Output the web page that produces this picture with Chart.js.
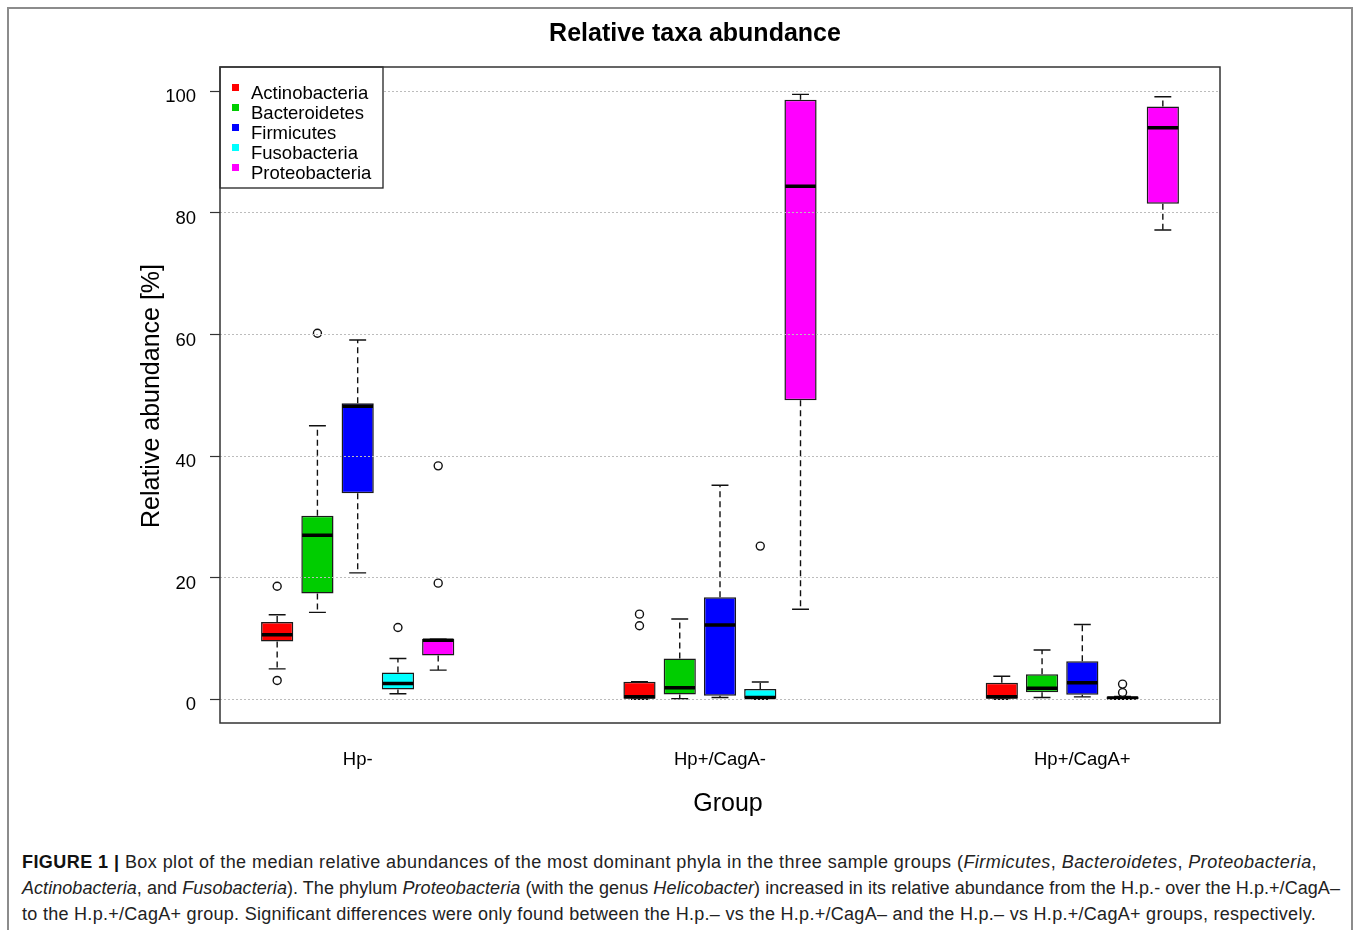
<!DOCTYPE html>
<html>
<head>
<meta charset="utf-8">
<script src="https://cdn.jsdelivr.net/npm/chart.js@4.4.1/dist/chart.umd.min.js"></script>
<style>
  html, body { margin: 0; padding: 0; background: #fff; width: 1358px; height: 930px; overflow: hidden; }
  #frame { position: absolute; left: 7px; top: 7px; width: 1346px; height: 1000px; box-sizing: border-box; border: 2px solid #8c8c8c; border-bottom: none; }
  #wrap { position: absolute; left: 0; top: 0; width: 1358px; height: 840px; }
  #caption { position: absolute; left: 22px; top: 849px; font-family: "Liberation Sans", Arial, sans-serif; font-size: 18px; line-height: 26px; color: #222; white-space: nowrap; }
  #caption .ln { display: block; width: max-content; }
  #caption b { font-weight: bold; color: #111; }
</style>
</head>
<body>
<div id="frame"></div>
<div id="wrap"><canvas id="c" width="1358" height="840"></canvas></div>
<div id="caption"><span class="ln" data-w="1295"><b>FIGURE 1 |</b> Box plot of the median relative abundances of the most dominant phyla in the three sample groups (<i>Firmicutes</i>, <i>Bacteroidetes</i>, <i>Proteobacteria</i>,</span><span class="ln" data-w="1318"><i>Actinobacteria</i>, and <i>Fusobacteria</i>). The phylum <i>Proteobacteria</i> (with the genus <i>Helicobacter</i>) increased in its relative abundance from the H.p.- over the H.p.+/CagA–</span><span class="ln" data-w="1294">to the H.p.+/CagA+ group. Significant differences were only found between the H.p.– vs the H.p.+/CagA– and the H.p.– vs H.p.+/CagA+ groups, respectively.</span></div>
<script>
// fit caption lines to the reference widths
document.querySelectorAll('#caption .ln').forEach(el => {
  const target = +el.dataset.w;
  const w = el.getBoundingClientRect().width;
  const n = el.textContent.length;
  el.style.letterSpacing = ((target - w) / n).toFixed(3) + 'px';
});

// ---------------- data ----------------
const chartTitle = 'Relative taxa abundance';
const yTitle = 'Relative abundance [%]';
const xTitle = 'Group';
const groups = ['Hp-', 'Hp+/CagA-', 'Hp+/CagA+'];
const groupTickPositions = [3, 12, 21];
const yTicks = [0, 20, 40, 60, 80, 100];
const phyla = ['Actinobacteria', 'Bacteroidetes', 'Firmicutes', 'Fusobacteria', 'Proteobacteria'];
const phylaColors = ['#FF0000', '#00CD00', '#0000FF', '#00FFFF', '#FF00FF'];

// values per phylum, one entry per group (Hp-, Hp+/CagA-, Hp+/CagA+)
const actinoLow  = [5.0, 0.0, 0.0];
const actinoQ1   = [9.5, 0.1, 0.1];
const actinoMed  = [10.6, 0.4, 0.4];
const actinoQ3   = [12.7, 2.9, 2.7];
const actinoHigh = [13.9, 2.9, 3.8];
const actinoOut  = [[18.6, 3.1], [14.0, 12.1], []];

const bactLow  = [14.3, 0.1, 0.3];
const bactQ1   = [17.4, 0.8, 1.15];
const bactMed  = [27.0, 1.9, 1.8];
const bactQ3   = [30.2, 6.7, 4.1];
const bactHigh = [45.0, 13.2, 8.1];
const bactOut  = [[60.2], [], []];

const firmLow  = [20.8, 0.3, 0.4];
const firmQ1   = [33.9, 0.6, 0.75];
const firmMed  = [48.2, 12.2, 2.7];
const firmQ3   = [48.7, 16.8, 6.25];
const firmHigh = [59.1, 35.2, 12.3];
const firmOut  = [[], [], []];

const fusoLow  = [0.9, 0.0, 0.0];
const fusoQ1   = [1.6, 0.1, 0.05];
const fusoMed  = [2.6, 0.3, 0.2];
const fusoQ3   = [4.4, 1.7, 0.45];
const fusoHigh = [6.7, 2.85, 0.45];
const fusoOut  = [[11.8], [25.2], [1.1, 2.5]];

const proteoLow  = [4.8, 14.8, 77.2];
const proteoQ1   = [7.2, 49.2, 81.5];
const proteoMed  = [9.7, 84.4, 94.0];
const proteoQ3   = [9.9, 98.6, 97.5];
const proteoHigh = [9.9, 99.5, 99.1];
const proteoOut  = [[38.4, 19.1], [], []];

const stats = [
  {low: actinoLow, q1: actinoQ1, med: actinoMed, q3: actinoQ3, high: actinoHigh, out: actinoOut},
  {low: bactLow, q1: bactQ1, med: bactMed, q3: bactQ3, high: bactHigh, out: bactOut},
  {low: firmLow, q1: firmQ1, med: firmMed, q3: firmQ3, high: firmHigh, out: firmOut},
  {low: fusoLow, q1: fusoQ1, med: fusoMed, q3: fusoQ3, high: fusoHigh, out: fusoOut},
  {low: proteoLow, q1: proteoQ1, med: proteoMed, q3: proteoQ3, high: proteoHigh, out: proteoOut}
];

// ---------------- build datasets ----------------
const BOX_HALF = 0.4, CAP_HALF = 0.21;
const pos = (g, p) => g * 9 + p + 1;

const datasets = [];
const whiskerPts = [], capPts = [], medPts = [], outPts = [];
stats.forEach((s, p) => {
  datasets.push({
    type: 'bar', label: phyla[p], order: 4,
    data: groups.map((_, g) => ({x: pos(g, p), y: [s.q1[g], s.q3[g]]})),
    backgroundColor: phylaColors[p], borderColor: '#1a1a1a', borderWidth: 1.5,
    borderSkipped: false, grouped: false, barPercentage: 0.8, categoryPercentage: 1.0
  });
  groups.forEach((_, g) => {
    const x = pos(g, p);
    whiskerPts.push({x, y: s.q3[g]}, {x, y: s.high[g]}, {x, y: null},
                    {x, y: s.q1[g]}, {x, y: s.low[g]}, {x, y: null});
    capPts.push({x: x - CAP_HALF, y: s.high[g]}, {x: x + CAP_HALF, y: s.high[g]}, {x, y: null},
                {x: x - CAP_HALF, y: s.low[g]}, {x: x + CAP_HALF, y: s.low[g]}, {x, y: null});
    medPts.push({x: x - BOX_HALF + 0.02, y: s.med[g]}, {x: x + BOX_HALF - 0.02, y: s.med[g]}, {x, y: null});
    s.out[g].forEach(v => outPts.push({x, y: v}));
  });
});
const lineBase = {type: 'line', pointRadius: 0, fill: false, spanGaps: false, borderColor: '#111', tension: 0, borderCapStyle: 'butt'};
datasets.push(Object.assign({}, lineBase, {label: 'whiskers', data: whiskerPts, borderWidth: 1.4, borderDash: [6, 4], order: 5}));
datasets.push(Object.assign({}, lineBase, {label: 'caps', data: capPts, borderWidth: 1.4, order: 3}));
datasets.push(Object.assign({}, lineBase, {label: 'medians', data: medPts, borderWidth: 3.5, borderColor: '#000', order: 2}));
datasets.push({type: 'scatter', label: 'outliers', data: outPts, pointStyle: 'circle', pointRadius: 4,
  pointBorderWidth: 1.4, pointBorderColor: '#111', pointBackgroundColor: 'rgba(255,255,255,0)', showLine: false, order: 1});

const FONT = '"Liberation Sans", Arial, sans-serif';

const decor = {
  id: 'decor',
  afterDraw(chart) {
    const ctx = chart.ctx, a = chart.chartArea;
    ctx.save();
    // legend
    const lx = a.left, ly = a.top, lw = 163, lh = 121;
    ctx.fillStyle = '#fff';
    ctx.fillRect(lx, ly, lw, lh);
    ctx.font = '18.5px ' + FONT;
    ctx.textBaseline = 'alphabetic';
    ctx.textAlign = 'left';
    phyla.forEach((name, i) => {
      const base = ly + 32 + i * 20;
      ctx.fillStyle = phylaColors[i];
      ctx.fillRect(lx + 12, base - 15, 7, 7);
      ctx.fillStyle = '#000';
      ctx.fillText(name, lx + 31, base);
    });
    ctx.strokeStyle = '#222';
    ctx.lineWidth = 1.3;
    ctx.strokeRect(lx, ly, lw, lh);
    // plot box
    ctx.lineWidth = 1.5;
    ctx.strokeStyle = '#333';
    ctx.strokeRect(a.left, a.top, a.right - a.left, a.bottom - a.top);
    // titles
    ctx.fillStyle = '#000';
    ctx.textAlign = 'center';
    ctx.textBaseline = 'middle';
    ctx.font = 'bold 25px ' + FONT;
    ctx.fillText(chartTitle, 695, 34);
    ctx.font = '25px ' + FONT;
    ctx.fillText(xTitle, 728, 804);
    ctx.translate(152, (a.top + a.bottom) / 2 + 1);
    ctx.rotate(-Math.PI / 2);
    ctx.fillText(yTitle, 0, 0);
    ctx.restore();
  }
};

new Chart(document.getElementById('c'), {
  data: {datasets},
  options: {
    responsive: false, animation: false, devicePixelRatio: 1,
    events: [],
    layout: {padding: {left: 0, right: 138, top: 67, bottom: 0}},
    plugins: {legend: {display: false}, tooltip: {enabled: false}, title: {display: false}},
    scales: {
      x: {
        type: 'linear', offset: false, min: -0.42, max: 24.42,
        afterFit: s => { s.height = 117; },
        afterBuildTicks: s => { s.ticks = groupTickPositions.map(v => ({value: v})); },
        grid: {display: false, drawTicks: false},
        border: {display: false},
        ticks: {
          autoSkip: false, maxRotation: 0, padding: 26, color: '#000',
          font: {family: FONT, size: 18.5},
          callback: (v, i) => groups[i]
        }
      },
      y: {
        type: 'linear', min: -3.9, max: 104.0,
        afterFit: s => { s.width = 220; },
        afterBuildTicks: s => { s.ticks = yTicks.map(v => ({value: v})); },
        grid: {display: true, color: '#bcbcbc', lineWidth: 1, z: 1,
               drawTicks: true, tickLength: 10, tickColor: '#333', tickWidth: 1.2},
        border: {display: false, dash: [2, 2]},
        ticks: {padding: 14, labelOffset: 6, color: '#000', font: {family: FONT, size: 18.5}}
      }
    }
  },
  plugins: [decor]
});
</script>
</body>
</html>
